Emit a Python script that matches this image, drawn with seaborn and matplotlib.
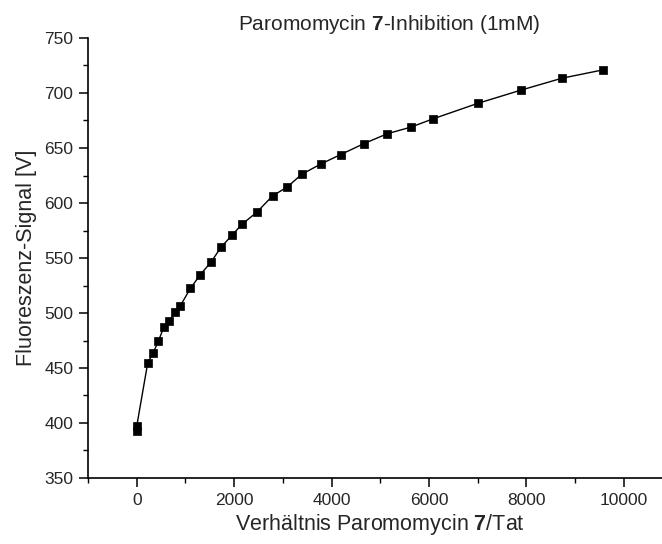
import numpy as np
import pandas as pd
import matplotlib
matplotlib.use("Agg")
import matplotlib.pyplot as plt
import seaborn as sns
from matplotlib.ticker import MultipleLocator

ratio = [0, 0, 226, 337, 446, 555, 672, 781, 892, 1104, 1309, 1529, 1735, 1953,
         2158, 2475, 2789, 3091, 3385, 3782, 4187, 4666, 5147, 5632, 6084,
         6997, 7881, 8736, 9573]
signal = [393, 397, 454.6, 463.7, 474.5, 487, 492.7, 500.8, 506.3, 522.5, 535,
          546.5, 560, 570.5, 580.5, 592, 606.5, 614.5, 626, 635.5, 644, 654,
          663, 669, 676.5, 690.5, 702.5, 713.5, 721]

title_text = r"Paromomycin $\mathbf{7}$-Inhibition (1mM)"
xlabel_text = r"Verhältnis Paromomycin $\mathbf{7}$/Tat"
ylabel_text = "Fluoreszenz-Signal [V]"

df = pd.DataFrame({"ratio": ratio, "signal": signal})

sns.set_style("ticks")
plt.rcParams["font.family"] = ["Liberation Sans", "DejaVu Sans"]
plt.rcParams["mathtext.fontset"] = "custom"
plt.rcParams["mathtext.rm"] = "Liberation Sans"
plt.rcParams["mathtext.bf"] = "Liberation Sans:bold"

W, H = 662, 544
fig = plt.figure(figsize=(W / 100, H / 100), dpi=100)
ax = fig.add_axes([88 / W, (H - 478) / H, (W - 88) / W, (478 - 38) / H])

sns.lineplot(data=df, x="ratio", y="signal", ax=ax, color="black", lw=1.0,
             sort=True, estimator=None)
sns.scatterplot(data=df, x="ratio", y="signal", ax=ax, color="black",
                marker="s", s=32, edgecolor="black", linewidth=0.5, zorder=3)

ax.set_xlim(-1000, 10785)
ax.set_ylim(350, 750)
ax.xaxis.set_minor_locator(MultipleLocator(1000))
ax.yaxis.set_major_locator(MultipleLocator(50))
ax.yaxis.set_minor_locator(MultipleLocator(25))
ax.set_xticks([0, 2000, 4000, 6000, 8000, 10000])

for s in ["top", "right"]:
    ax.spines[s].set_visible(False)
for s in ["left", "bottom"]:
    ax.spines[s].set_linewidth(1.2)
    ax.spines[s].set_color("black")

ax.tick_params(which="major", length=6.5, width=1.1, labelsize=12.5, color="black", pad=4)
ax.tick_params(which="minor", length=3.6, width=1.0, color="black")

ax.set_xlabel(xlabel_text, fontsize=15.5)
ax.xaxis.set_label_coords((380 - 88) / (W - 88), -0.077)
ax.set_ylabel(ylabel_text, fontsize=15.5, labelpad=5)
fig.text(389 / W, 1 - 24 / H, title_text, fontsize=15, ha="center", va="center")

fig.savefig("out.png", dpi=100)
